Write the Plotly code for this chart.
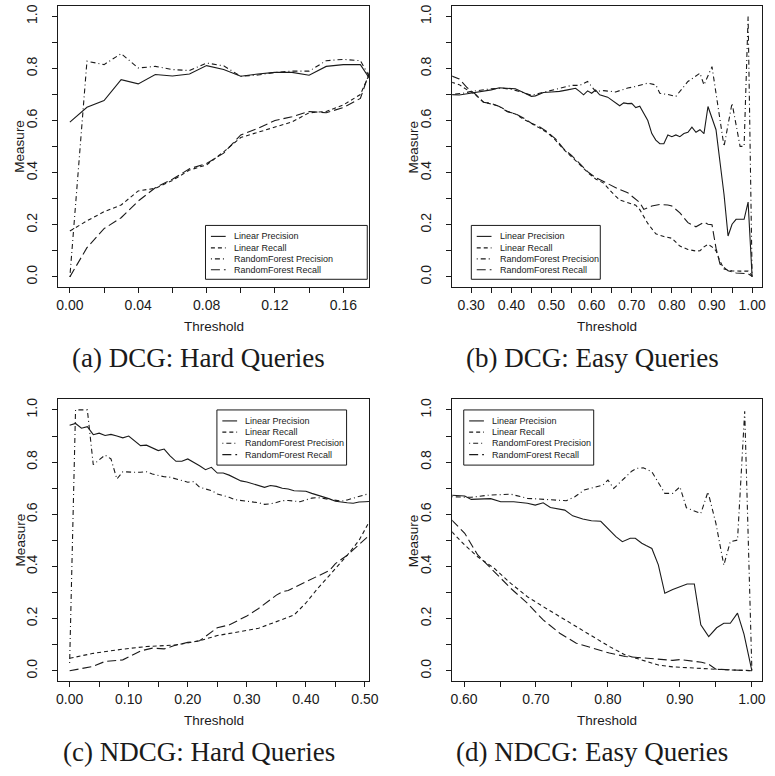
import plotly.graph_objects as go

# ---------------- data ----------------
# (a) DCG: Hard Queries
a_x = [0.00, 0.01, 0.02, 0.03, 0.04, 0.05, 0.06, 0.07, 0.08, 0.09, 0.10, 0.11, 0.12, 0.13, 0.14, 0.15, 0.16, 0.17, 0.176]
a_lin_prec = [0.594, 0.651, 0.677, 0.757, 0.741, 0.777, 0.771, 0.779, 0.811, 0.796, 0.770, 0.779, 0.785, 0.785, 0.774, 0.808, 0.815, 0.815, 0.755]
a_lin_rec = [0.176, 0.215, 0.250, 0.276, 0.330, 0.340, 0.370, 0.410, 0.430, 0.480, 0.535, 0.555, 0.575, 0.595, 0.630, 0.635, 0.660, 0.700, 0.790]
a_rf_prec = [0.000, 0.828, 0.815, 0.857, 0.802, 0.808, 0.796, 0.792, 0.821, 0.810, 0.770, 0.775, 0.785, 0.790, 0.790, 0.830, 0.835, 0.830, 0.760]
a_rf_rec = [0.000, 0.112, 0.185, 0.227, 0.291, 0.342, 0.375, 0.415, 0.435, 0.475, 0.545, 0.570, 0.600, 0.615, 0.635, 0.630, 0.650, 0.685, 0.800]

# (b) DCG: Easy Queries
b_lin_prec_x = [0.25, 0.27, 0.29, 0.31, 0.33, 0.35, 0.37, 0.39, 0.41, 0.43, 0.45, 0.46, 0.48, 0.50, 0.52, 0.54, 0.56, 0.57, 0.58, 0.59,
                0.60, 0.61, 0.62, 0.64, 0.66, 0.67, 0.68, 0.69, 0.70, 0.71, 0.72, 0.73, 0.74, 0.75, 0.76, 0.77, 0.78, 0.79, 0.80, 0.81,
                0.82, 0.83, 0.84, 0.85, 0.86, 0.87, 0.88, 0.89, 0.90, 0.91, 0.92, 0.93, 0.94, 0.95, 0.96, 0.97, 0.98, 0.99, 1.00]
b_lin_prec = [0.700, 0.698, 0.703, 0.708, 0.712, 0.718, 0.726, 0.725, 0.722, 0.708, 0.693, 0.695, 0.708, 0.710, 0.712, 0.718, 0.724, 0.712, 0.699, 0.714,
              0.705, 0.717, 0.699, 0.690, 0.667, 0.657, 0.668, 0.665, 0.666, 0.650, 0.655, 0.625, 0.600, 0.550, 0.525, 0.511, 0.511, 0.545, 0.538, 0.545,
              0.538, 0.550, 0.555, 0.575, 0.555, 0.565, 0.550, 0.654, 0.610, 0.565, 0.440, 0.316, 0.157, 0.202, 0.221, 0.221, 0.221, 0.287, 0.000]
b_rf_prec_x = [0.25, 0.28, 0.30, 0.33, 0.35, 0.38, 0.40, 0.42, 0.45, 0.47, 0.50, 0.53, 0.55, 0.57, 0.59, 0.61, 0.63, 0.66, 0.69, 0.71,
               0.74, 0.76, 0.77, 0.79, 0.81, 0.84, 0.87, 0.88, 0.90, 0.93, 0.95, 0.97, 0.98, 0.99, 1.00]
b_rf_prec = [0.700, 0.705, 0.712, 0.718, 0.722, 0.724, 0.720, 0.712, 0.697, 0.705, 0.716, 0.725, 0.735, 0.735, 0.750, 0.712, 0.715, 0.710, 0.725, 0.731,
             0.744, 0.737, 0.705, 0.700, 0.693, 0.750, 0.782, 0.737, 0.807, 0.501, 0.667, 0.501, 0.501, 1.000, 0.000]
b_lin_rec_x = [0.25, 0.27, 0.29, 0.31, 0.33, 0.35, 0.37, 0.39, 0.41, 0.43, 0.45, 0.47, 0.49, 0.51, 0.53, 0.55, 0.57, 0.59, 0.61, 0.63,
               0.65, 0.67, 0.69, 0.71, 0.72, 0.74, 0.76, 0.78, 0.80, 0.82, 0.84, 0.86, 0.87, 0.88, 0.89, 0.90, 0.91, 0.92, 0.93, 0.95,
               0.97, 0.99, 1.00]
b_lin_rec = [0.748, 0.738, 0.718, 0.700, 0.672, 0.664, 0.655, 0.636, 0.625, 0.606, 0.590, 0.572, 0.553, 0.525, 0.490, 0.462, 0.432, 0.401, 0.376, 0.360,
             0.325, 0.295, 0.285, 0.275, 0.258, 0.205, 0.165, 0.155, 0.148, 0.118, 0.105, 0.099, 0.100, 0.115, 0.125, 0.115, 0.100, 0.060, 0.030, 0.023,
             0.022, 0.022, 0.005]
b_rf_rec_x = [0.25, 0.27, 0.29, 0.31, 0.33, 0.35, 0.37, 0.39, 0.41, 0.43, 0.45, 0.47, 0.49, 0.51, 0.53, 0.55, 0.57, 0.59, 0.61, 0.63,
              0.65, 0.67, 0.69, 0.71, 0.72, 0.73, 0.75, 0.77, 0.79, 0.80, 0.82, 0.84, 0.86, 0.88, 0.89, 0.90, 0.91, 0.92, 0.94, 0.96,
              0.98, 0.99, 1.00]
b_rf_rec = [0.772, 0.760, 0.726, 0.702, 0.670, 0.666, 0.654, 0.634, 0.626, 0.610, 0.590, 0.576, 0.556, 0.530, 0.492, 0.466, 0.436, 0.404, 0.381, 0.365,
            0.348, 0.335, 0.323, 0.300, 0.285, 0.259, 0.272, 0.278, 0.276, 0.272, 0.246, 0.208, 0.192, 0.210, 0.202, 0.200, 0.110, 0.049, 0.023, 0.015,
            0.012, 0.012, 0.002]

# (c) NDCG: Hard Queries
c_x = [0.00, 0.01, 0.02, 0.03, 0.04, 0.05, 0.06, 0.07, 0.08, 0.09, 0.10, 0.11, 0.12, 0.13, 0.14, 0.15, 0.16, 0.17, 0.18, 0.19,
       0.20, 0.21, 0.22, 0.23, 0.24, 0.25, 0.26, 0.27, 0.28, 0.29, 0.30, 0.31, 0.32, 0.33, 0.34, 0.35, 0.36, 0.37, 0.38, 0.39,
       0.40, 0.41, 0.42, 0.43, 0.44, 0.45, 0.46, 0.47, 0.48, 0.49, 0.50, 0.51]
c_lin_prec = [0.941, 0.948, 0.930, 0.936, 0.905, 0.911, 0.902, 0.906, 0.900, 0.893, 0.900, 0.882, 0.863, 0.865, 0.856, 0.844, 0.850, 0.824, 0.803, 0.803,
              0.812, 0.800, 0.786, 0.771, 0.780, 0.758, 0.758, 0.750, 0.738, 0.728, 0.724, 0.716, 0.710, 0.703, 0.710, 0.707, 0.700, 0.697, 0.690, 0.689,
              0.688, 0.680, 0.674, 0.666, 0.659, 0.650, 0.646, 0.644, 0.642, 0.647, 0.648, 0.649]
c_rf_prec = [0.030, 1.000, 1.000, 1.000, 0.790, 0.808, 0.827, 0.812, 0.735, 0.763, 0.761, 0.761, 0.761, 0.763, 0.754, 0.748, 0.744, 0.742, 0.735, 0.729,
             0.723, 0.725, 0.704, 0.697, 0.691, 0.678, 0.672, 0.665, 0.656, 0.653, 0.652, 0.648, 0.644, 0.638, 0.640, 0.645, 0.652, 0.653, 0.650, 0.648,
             0.655, 0.662, 0.664, 0.660, 0.656, 0.653, 0.650, 0.655, 0.662, 0.670, 0.675, 0.680]
c_lin_rec_x = [0.00, 0.04, 0.09, 0.13, 0.18, 0.22, 0.25, 0.27, 0.30, 0.32, 0.34, 0.36, 0.38, 0.40, 0.42, 0.44, 0.47, 0.49, 0.51]
c_lin_rec = [0.048, 0.067, 0.083, 0.093, 0.099, 0.115, 0.135, 0.144, 0.155, 0.163, 0.180, 0.198, 0.214, 0.260, 0.316, 0.366, 0.443, 0.500, 0.583]
c_rf_rec_x = [0.00, 0.04, 0.06, 0.09, 0.12, 0.14, 0.16, 0.18, 0.20, 0.22, 0.25, 0.27, 0.30, 0.32, 0.35, 0.36, 0.37, 0.40, 0.44, 0.45, 0.47, 0.51]
c_rf_rec = [0.000, 0.017, 0.036, 0.042, 0.076, 0.087, 0.084, 0.099, 0.109, 0.115, 0.165, 0.176, 0.210, 0.239, 0.290, 0.303, 0.308, 0.341, 0.385, 0.411, 0.443, 0.525]

# (d) NDCG: Easy Queries
d_lin_prec_x = [0.583, 0.601, 0.610, 0.637, 0.651, 0.669, 0.688, 0.699, 0.710, 0.720, 0.740, 0.751, 0.765, 0.777, 0.790, 0.800, 0.811, 0.820, 0.831, 0.838,
                0.847, 0.853, 0.861, 0.870, 0.879, 0.890, 0.900, 0.910, 0.920, 0.929, 0.940, 0.951, 0.961, 0.970, 0.980, 0.989, 1.000]
d_lin_prec = [0.673, 0.670, 0.657, 0.660, 0.648, 0.648, 0.642, 0.635, 0.644, 0.626, 0.616, 0.594, 0.582, 0.575, 0.573, 0.546, 0.514, 0.495, 0.508, 0.508,
              0.489, 0.480, 0.469, 0.406, 0.297, 0.312, 0.323, 0.333, 0.333, 0.176, 0.131, 0.165, 0.182, 0.182, 0.221, 0.141, 0.000]
d_rf_prec_x = [0.583, 0.610, 0.633, 0.665, 0.688, 0.710, 0.742, 0.754, 0.767, 0.793, 0.800, 0.808, 0.822, 0.833, 0.840, 0.849, 0.861, 0.870, 0.879, 0.890,
               0.900, 0.909, 0.929, 0.939, 0.950, 0.961, 0.970, 0.980, 0.990, 1.000]
d_rf_prec = [0.667, 0.665, 0.673, 0.677, 0.661, 0.657, 0.652, 0.667, 0.693, 0.712, 0.731, 0.699, 0.737, 0.765, 0.776, 0.778, 0.763, 0.724, 0.680, 0.680,
             0.705, 0.625, 0.603, 0.686, 0.565, 0.405, 0.495, 0.501, 0.995, 0.000]
d_lin_rec_x = [0.583, 0.601, 0.619, 0.642, 0.665, 0.688, 0.710, 0.733, 0.756, 0.779, 0.802, 0.824, 0.847, 0.870, 0.890, 0.910, 0.930, 0.950, 0.970, 0.990, 1.000]
d_lin_rec = [0.533, 0.482, 0.437, 0.393, 0.335, 0.284, 0.246, 0.208, 0.170, 0.131, 0.093, 0.061, 0.042, 0.022, 0.015, 0.012, 0.008, 0.004, 0.003, 0.002, 0.000]
d_rf_rec_x = [0.583, 0.601, 0.619, 0.642, 0.665, 0.688, 0.710, 0.733, 0.756, 0.779, 0.802, 0.824, 0.847, 0.870, 0.890, 0.900, 0.920, 0.930, 0.940, 0.950,
              0.970, 0.990, 1.000]
d_rf_rec = [0.578, 0.527, 0.444, 0.380, 0.316, 0.259, 0.195, 0.144, 0.106, 0.087, 0.068, 0.055, 0.050, 0.045, 0.040, 0.043, 0.035, 0.033, 0.025, 0.006,
            0.004, 0.002, 0.000]

series_names = ["Linear Precision", "Linear Recall", "RandomForest Precision", "RandomForest Recall"]
captions = ["(a) DCG: Hard Queries", "(b) DCG: Easy Queries", "(c) NDCG: Hard Queries", "(d) NDCG: Easy Queries"]
y_ticks = [0.0, 0.1, 0.2, 0.3, 0.4, 0.5, 0.6, 0.7, 0.8, 0.9, 1.0]
y_labels = ["0.0", "", "0.2", "", "0.4", "", "0.6", "", "0.8", "", "1.0"]
a_ticks = [0.00, 0.02, 0.04, 0.06, 0.08, 0.10, 0.12, 0.14, 0.16]
a_labels = ["0.00", "", "0.04", "", "0.08", "", "0.12", "", "0.16"]
b_ticks = [0.30, 0.35, 0.40, 0.45, 0.50, 0.55, 0.60, 0.65, 0.70, 0.75, 0.80, 0.85, 0.90, 0.95, 1.00]
b_labels = ["0.30", "", "0.40", "", "0.50", "", "0.60", "", "0.70", "", "0.80", "", "0.90", "", "1.00"]
c_ticks = [0.00, 0.05, 0.10, 0.15, 0.20, 0.25, 0.30, 0.35, 0.40, 0.45, 0.50]
c_labels = ["0.00", "", "0.10", "", "0.20", "", "0.30", "", "0.40", "", "0.50"]
d_ticks = [0.60, 0.65, 0.70, 0.75, 0.80, 0.85, 0.90, 0.95, 1.00]
d_labels = ["0.60", "", "0.70", "", "0.80", "", "0.90", "", "1.00"]

# ---------------- styling ----------------
W, H = 775, 776
INK = "#1a1a1a"
SANS = "Liberation Sans, Arial, Helvetica, sans-serif"
SERIF = "Liberation Serif, Times New Roman, serif"
dashes = ["solid", "4px,3px", "1px,3px,5px,3px", "9px,4px"]


def X(px):
    return px / W


def Y(py):
    return 1 - py / H


panels = [
    dict(ax="x", ay="y", xr=[-0.0067, 0.1750], ticks=a_ticks, labels=a_labels,
         box=(57.3, 372.7, 4.0, 286.0),
         data=[(a_x, a_lin_prec), (a_x, a_lin_rec), (a_x, a_rf_prec), (a_x, a_rf_rec)],
         leg=(206.7, 371.0, 224.0, 278.0), rows=(235.0, 246.5, 257.5, 268.5)),
    dict(ax="x2", ay="y2", xr=[0.2526, 1.0240], ticks=b_ticks, labels=b_labels,
         box=(457.3, 771.7, 4.0, 286.0),
         data=[(b_lin_prec_x, b_lin_prec), (b_lin_rec_x, b_lin_rec), (b_rf_prec_x, b_rf_prec), (b_rf_rec_x, b_rf_rec)],
         leg=(476.7, 607.7, 224.0, 278.0), rows=(235.0, 246.5, 257.5, 268.5)),
    dict(ax="x3", ay="y3", xr=[-0.0190, 0.5067], ticks=c_ticks, labels=c_labels,
         box=(57.3, 372.7, 398.5, 681.0),
         data=[(c_x, c_lin_prec), (c_lin_rec_x, c_lin_rec), (c_x, c_rf_prec), (c_rf_rec_x, c_rf_rec)],
         leg=(218.3, 350.0, 409.0, 464.3), rows=(420.0, 431.2, 442.4, 453.8)),
    dict(ax="x4", ay="y4", xr=[0.5836, 1.0137], ticks=d_ticks, labels=d_labels,
         box=(457.3, 771.7, 398.5, 681.0),
         data=[(d_lin_prec_x, d_lin_prec), (d_lin_rec_x, d_lin_rec), (d_rf_prec_x, d_rf_prec), (d_rf_rec_x, d_rf_rec)],
         leg=(469.0, 601.0, 409.0, 464.3), rows=(420.0, 431.2, 442.4, 453.8)),
]

fig = go.Figure()
layout = dict(
    width=W, height=H, margin=dict(l=0, r=0, t=0, b=0),
    paper_bgcolor="white", plot_bgcolor="white", showlegend=False,
    font=dict(family=SANS, color=INK),
)
shapes = []
annotations = []

for i, p in enumerate(panels):
    for (xs, ys), dash in zip(p["data"], dashes):
        fig.add_trace(go.Scatter(x=xs, y=ys, mode="lines", xaxis=p["ax"], yaxis=p["ay"],
                                 line=dict(color=INK, width=1.1, dash=dash), hoverinfo="skip"))
    l, r, t, b = p["box"]
    sfx = "" if i == 0 else str(i + 1)
    layout["xaxis" + sfx] = dict(
        domain=[X(l), X(r)], range=p["xr"], anchor=p["ay"],
        tickmode="array", tickvals=p["ticks"], ticktext=p["labels"],
        showline=True, mirror=True, linecolor=INK, linewidth=1,
        ticks="outside", ticklen=5, tickwidth=1, tickcolor=INK,
        showgrid=False, zeroline=False,
        tickfont=dict(family=SANS, size=14, color=INK),
    )
    layout["yaxis" + sfx] = dict(
        domain=[Y(b), Y(t)], range=[-0.04, 1.04], anchor=p["ax"],
        tickmode="array", tickvals=y_ticks, ticktext=y_labels, tickangle=-90,
        showline=True, mirror=True, linecolor=INK, linewidth=1,
        ticks="outside", ticklen=5, tickwidth=1, tickcolor=INK,
        showgrid=False, zeroline=False, ticklabelstandoff=10,
        tickfont=dict(family=SANS, size=14, color=INK),
    )
    cx = (l + r) / 2
    annotations.append(dict(text="Threshold", x=X(cx), y=Y(b + 39), xref="paper", yref="paper",
                            xanchor="center", yanchor="middle",
                            showarrow=False, font=dict(family=SANS, size=13.5, color=INK)))
    annotations.append(dict(text="Measure", x=X(l - 39), y=Y((t + b) / 2), xref="paper", yref="paper",
                            xanchor="center", yanchor="middle",
                            showarrow=False, textangle=-90, font=dict(family=SANS, size=13.5, color=INK)))
    annotations.append(dict(text=captions[i], x=X(cx - 15), y=Y(b + 71), xref="paper", yref="paper",
                            xanchor="center", yanchor="middle",
                            showarrow=False, font=dict(family=SERIF, size=27, color=INK)))
    # legend box
    ll, lr, lt, lb = p["leg"]
    shapes.append(dict(type="rect", xref="paper", yref="paper", x0=X(ll), x1=X(lr), y0=Y(lb), y1=Y(lt),
                       line=dict(color=INK, width=1), fillcolor="white", layer="above"))
    for name, dash, ry in zip(series_names, dashes, p["rows"]):
        shapes.append(dict(type="line", xref="paper", yref="paper", x0=X(ll + 5.5), x1=X(ll + 20.5),
                           y0=Y(ry), y1=Y(ry), line=dict(color=INK, width=1.1, dash=dash), layer="above"))
        annotations.append(dict(text=name, x=X(ll + 26.8), y=Y(ry), xref="paper", yref="paper",
                                xanchor="left", yanchor="middle", showarrow=False,
                                font=dict(family=SANS, size=9, color=INK)))

layout["shapes"] = shapes
layout["annotations"] = annotations
fig.update_layout(**layout)
fig.write_html("out.html")
